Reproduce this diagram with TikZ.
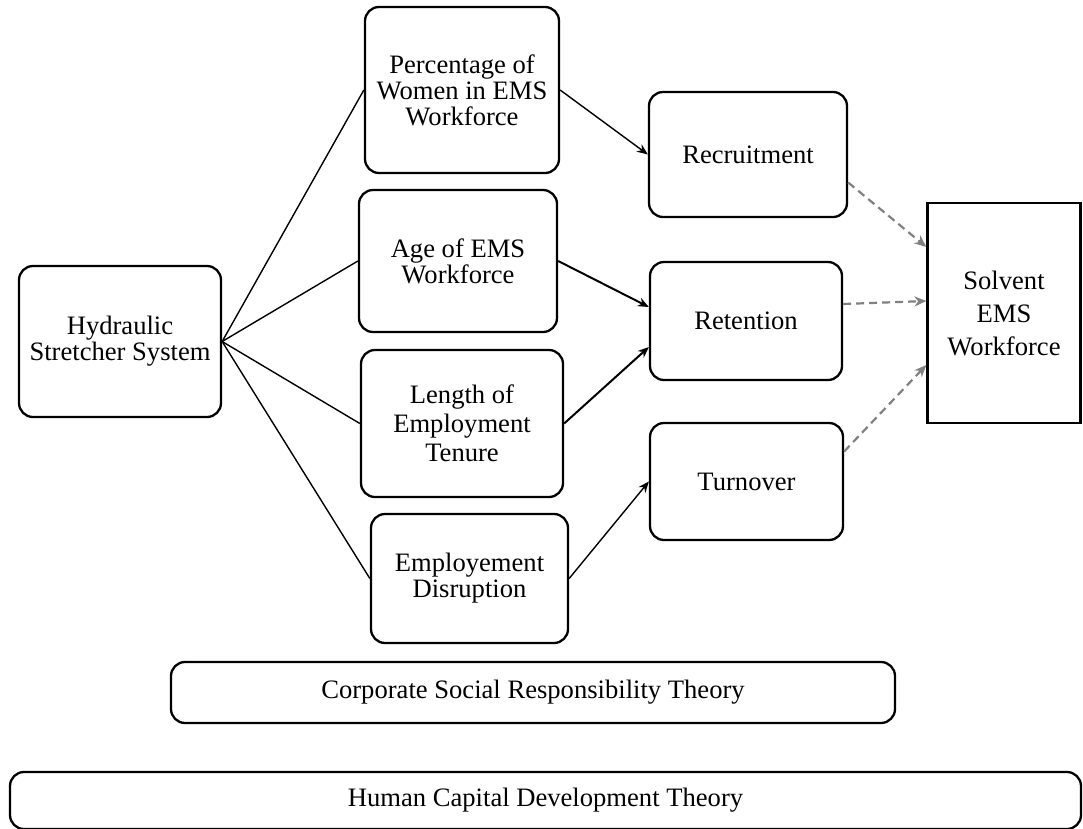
\documentclass[tikz,border=0pt]{standalone}
\usepackage{fontspec}
\setmainfont{Liberation Serif}
\usetikzlibrary{arrows.meta}
\begin{document}
\begin{tikzpicture}[x=1pt,y=-1pt,
  box/.style={draw=black,line width=2.3pt,rounded corners=14pt,inner sep=0pt,align=center,
    font=\fontsize{26.6}{26}\selectfont,anchor=center},
  sqbox/.style={box,rounded corners=0pt},
  link/.style={draw=black,line width=1.4pt},
  arr/.style={draw=black,line width=1.4pt,-{Stealth[length=11pt,width=9pt]}},
  arrthick/.style={arr,line width=2pt},
  dasharr/.style={draw={rgb,255:red,128;green,128;blue,128},line width=2.2pt,dash pattern=on 8pt off 5pt,
    -{Stealth[length=12pt,width=10pt]}}
]
\useasboundingbox (0,0) rectangle (1083,828);
\node[box,minimum width=202pt,minimum height=151pt] (hyd) at (120,341.5) {Hydraulic\\Stretcher System};
\node[box,minimum width=194pt,minimum height=166pt] (pct) at (462,90) {Percentage of\\Women in EMS\\Workforce};
\node[box,minimum width=198pt,minimum height=142pt] (age) at (458,261) {Age of EMS\\Workforce};
\node[box,minimum width=202pt,minimum height=147pt,font=\fontsize{26.6}{29}\selectfont] (len) at (462,423.5) {Length of\\Employment\\Tenure};
\node[box,minimum width=197pt,minimum height=129pt] (emp) at (469.5,578.5) {Employement\\Disruption};
\node[box,minimum width=198pt,minimum height=125pt] (rec) at (748,154.5) {Recruitment};
\node[box,minimum width=192pt,minimum height=118pt] (ret) at (746,321) {Retention};
\node[box,minimum width=193pt,minimum height=117pt] (tur) at (746.5,481.5) {Turnover};
\node[sqbox,minimum width=153pt,minimum height=220pt,font=\fontsize{26.6}{33}\selectfont] (sol) at (1004,313) {Solvent\\EMS\\Workforce};
\node[box,minimum width=724pt,minimum height=61pt] (csr) at (533,692.5) {Corporate Social Responsibility Theory};
\node[box,minimum width=1071pt,minimum height=57pt] (hcd) at (545.5,800.5) {Human Capital Development Theory};

\coordinate (hub) at (hyd.east);
\draw[link] (hub) -- (pct.west);
\draw[link] (hub) -- (age.west);
\draw[link] (hub) -- (len.west);
\draw[link] (hub) -- (emp.west);

\draw[arr] (pct.east) -- (rec.west);
\draw[arrthick] (age.east) -- ([yshift=14pt]ret.west);
\draw[arrthick] (len.east) -- ([yshift=-26pt]ret.west);
\draw[arr] (emp.east) -- (tur.west);

\draw[dasharr] ([yshift=-28pt]rec.east) -- ([yshift=66pt]sol.west);
\draw[dasharr] ([yshift=17pt]ret.east) -- ([yshift=12pt]sol.west);
\draw[dasharr] ([yshift=30pt]tur.east) -- ([yshift=-52pt]sol.west);
\end{tikzpicture}
\end{document}
